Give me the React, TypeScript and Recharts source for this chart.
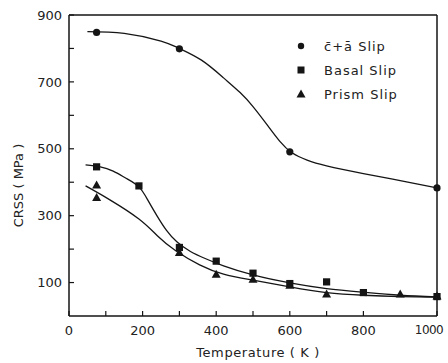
import React from 'react';
import { ComposedChart, Line, Scatter, XAxis, YAxis } from 'recharts';

// measured points (temperature K, CRSS MPa)
const caPoints = [
  { t: 75, v: 848 }, { t: 300, v: 799 }, { t: 600, v: 491 }, { t: 1000, v: 383 },
];
const basalPoints = [
  { t: 75, v: 446 }, { t: 190, v: 389 }, { t: 300, v: 205 }, { t: 400, v: 164 },
  { t: 500, v: 128 }, { t: 600, v: 97 }, { t: 700, v: 102 }, { t: 800, v: 70 },
  { t: 1000, v: 58 },
];
const prismPoints = [
  { t: 75, v: 392 }, { t: 75, v: 354 }, { t: 300, v: 190 }, { t: 400, v: 125 },
  { t: 500, v: 110 }, { t: 600, v: 92 }, { t: 700, v: 66 }, { t: 900, v: 66 },
  { t: 1000, v: 60 },
];

// fitted curves
const caCurve = [
  { t: 50, v: 850 }, { t: 150, v: 845 }, { t: 250, v: 822 }, { t: 300, v: 800 },
  { t: 360, v: 765 }, { t: 420, v: 712 }, { t: 465, v: 668 }, { t: 500, v: 626 },
  { t: 538, v: 572 }, { t: 573, v: 522 }, { t: 606, v: 488 }, { t: 647, v: 466 },
  { t: 700, v: 449 }, { t: 800, v: 426 }, { t: 900, v: 405 }, { t: 1000, v: 383 },
];
const basalCurve = [
  { t: 45, v: 452 }, { t: 85, v: 446 }, { t: 120, v: 433 }, { t: 155, v: 412 },
  { t: 190, v: 386 }, { t: 215, v: 345 }, { t: 240, v: 298 }, { t: 265, v: 256 },
  { t: 293, v: 222 }, { t: 330, v: 193 }, { t: 370, v: 172 }, { t: 420, v: 150 },
  { t: 500, v: 123 }, { t: 600, v: 99 }, { t: 700, v: 82 }, { t: 800, v: 71 },
  { t: 900, v: 62 }, { t: 1000, v: 57 },
];
const prismCurve = [
  { t: 45, v: 389 }, { t: 110, v: 348 }, { t: 190, v: 290 }, { t: 240, v: 240 },
  { t: 290, v: 195 }, { t: 355, v: 153 }, { t: 420, v: 125 }, { t: 500, v: 107 },
  { t: 600, v: 87 }, { t: 700, v: 70 }, { t: 800, v: 62 }, { t: 900, v: 58 },
  { t: 1000, v: 56 },
];

const xTicks = [0, 100, 200, 300, 400, 500, 600, 700, 800, 900, 1000];
const yTicks = [100, 200, 300, 400, 500, 600, 700, 800, 900];
const xLabelled = [0, 200, 400, 600, 800, 1000];
const yLabelled = [100, 300, 500, 700, 900];

const legendNames = ['c\u0304+a\u0304 Slip', 'Basal Slip', 'Prism Slip'];

const INK = '#151515';
const FONT = '"DejaVu Sans", sans-serif';

const DotShape = (p: any) => <circle cx={p.cx} cy={p.cy} r={3.6} fill={INK} />;
const SquareShape = (p: any) => <rect x={p.cx - 3.6} y={p.cy - 3.6} width={7.2} height={7.2} fill={INK} />;
const TriShape = (p: any) => (
  <polygon points={`${p.cx},${p.cy - 4.5} ${p.cx + 4.5},${p.cy + 3.5} ${p.cx - 4.5},${p.cy + 3.5}`} fill={INK} />
);

const legendIcons = [
  <circle cx={7} cy={7} r={3.2} fill={INK} />,
  <rect x={3.5} y={3.5} width={7} height={7} fill={INK} />,
  <polygon points="7,2.5 11.5,10.5 2.5,10.5" fill={INK} />,
];

// x tick label; the last one hugs the right edge like in the figure
const XTick = (props: any) => {
  const { x, y, payload } = props;
  const v = payload.value;
  if (!xLabelled.includes(v)) return <g />;
  const last = v === 1000;
  return (
    <text x={last ? x + 11 : x} y={y + 5} textAnchor={last ? 'end' : 'middle'} dominantBaseline="central"
      fontFamily={FONT} fontSize={last ? 12 : 13} letterSpacing={last ? -0.6 : 0} fill="#222">
      {v}
    </text>
  );
};

const YTitle = (props: any) => {
  const vb = props.viewBox;
  const cx = vb.x + 18;
  const cy = vb.y + vb.height / 2 + 20;
  return (
    <text x={cx} y={cy} transform={`rotate(-90 ${cx} ${cy})`} textAnchor="middle" dominantBaseline="central"
      fontFamily={FONT} fontSize={13} fill="#222">
      CRSS ( MPa )
    </text>
  );
};

const XTitle = (props: any) => {
  const vb = props.viewBox;
  return (
    <text x={vb.x + vb.width / 2 + 5} y={vb.y + 41} textAnchor="middle"
      fontFamily={FONT} fontSize={13} fill="#222" letterSpacing={0.6}>
      Temperature ( K )
    </text>
  );
};

export default function App() {
  const tickStyle = { fontSize: 13, fill: '#222', fontFamily: FONT };
  const axisLine = { stroke: INK, strokeWidth: 1.5 };
  const tickLine = { stroke: INK, strokeWidth: 1.2 };
  return (
    <div style={{ position: 'absolute', left: 0, top: 0, width: 448, height: 363, background: '#fff' }}>
      <ComposedChart width={448} height={363} margin={{ top: 15, right: 11, bottom: 0, left: 0 }}>
        <XAxis dataKey="t" type="number" domain={[0, 1000]} ticks={xTicks}
          tick={<XTick />} axisLine={axisLine} tickLine={tickLine}
          tickSize={-5} tickMargin={14} height={47} label={XTitle} />
        <XAxis xAxisId="top" orientation="top" mirror type="number" domain={[0, 1000]} ticks={xTicks}
          tickFormatter={() => ''} axisLine={axisLine} tickLine={tickLine} tickSize={5} />
        <YAxis type="number" domain={[0, 900]} ticks={yTicks}
          tickFormatter={(v: number) => (yLabelled.includes(v) ? String(v) : '')}
          tick={tickStyle} axisLine={axisLine} tickLine={tickLine}
          tickSize={-5} tickMargin={12} width={69} label={YTitle} />
        <YAxis yAxisId="right" orientation="right" mirror type="number" domain={[0, 900]} ticks={yTicks}
          tickFormatter={() => ''} axisLine={axisLine} tickLine={tickLine} tickSize={5} />
        <Line data={caCurve} dataKey="v" type="natural" stroke={INK} strokeWidth={1.3} dot={false} isAnimationActive={false} />
        <Line data={basalCurve} dataKey="v" type="natural" stroke={INK} strokeWidth={1.3} dot={false} isAnimationActive={false} />
        <Line data={prismCurve} dataKey="v" type="natural" stroke={INK} strokeWidth={1.3} dot={false} isAnimationActive={false} />
        <Scatter data={caPoints} dataKey="v" shape={DotShape} isAnimationActive={false} />
        <Scatter data={basalPoints} dataKey="v" shape={SquareShape} isAnimationActive={false} />
        <Scatter data={prismPoints} dataKey="v" shape={TriShape} isAnimationActive={false} />
      </ComposedChart>
      <div style={{ position: 'absolute', left: 294, top: 34, fontFamily: FONT, fontSize: 13, color: '#222', letterSpacing: 1 }}>
        {legendNames.map((name, i) => (
          <div key={name} style={{ display: 'flex', alignItems: 'center', height: 24 }}>
            <svg width={14} height={14} style={{ marginRight: 16 }}>{legendIcons[i]}</svg>
            <span>{name}</span>
          </div>
        ))}
      </div>
    </div>
  );
}
